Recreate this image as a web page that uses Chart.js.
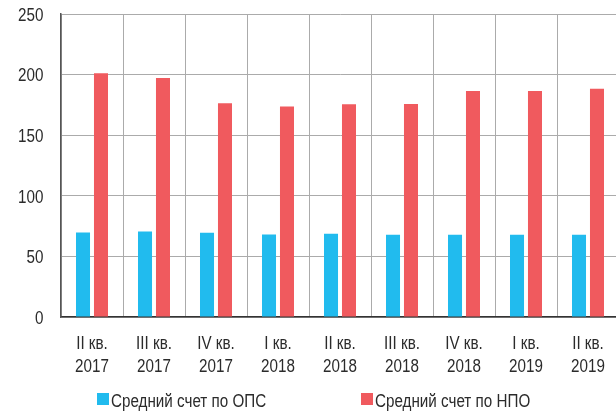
<!DOCTYPE html>
<html>
<head>
<meta charset="utf-8">
<script src="https://cdn.jsdelivr.net/npm/chart.js@4/dist/chart.umd.min.js"></script>
<style>
html,body{margin:0;padding:0;overflow:hidden;background:#fff;}
#wrap{width:620px;height:412px;}
</style>
</head>
<body>
<div id="wrap"><canvas id="c" width="620" height="412"></canvas></div>
<script>
const categories = [["II кв.","2017"],["III кв.","2017"],["IV кв.","2017"],["I кв.","2018"],["II кв.","2018"],["III кв.","2018"],["IV кв.","2018"],["I кв.","2019"],["II кв.","2019"]];
const opsValues = [69.7, 70.5, 69.5, 68.1, 68.6, 67.8, 67.8, 67.8, 67.8];
const npoValues = [201.1, 197.2, 176.4, 173.6, 175.6, 175.8, 186.5, 186.5, 188.4];
const seriesNames = ["Средний счет по ОПС", "Средний счет по НПО"];
const yTicks = [0, 50, 100, 150, 200, 250];

const FONT = '18px "Liberation Sans", Arial, sans-serif';
const NARROW = 0.845;
const TEXT = '#2b2b2b';

function narrowText(ctx, text, x, y, align) {
  ctx.save();
  ctx.translate(x, y);
  ctx.scale(NARROW, 1);
  ctx.textAlign = align;
  ctx.textBaseline = 'alphabetic';
  ctx.fillText(text, 0, 0);
  ctx.restore();
}

const textPlugin = {
  id: 'narrowTexts',
  afterDraw(chart) {
    const ctx = chart.ctx;
    ctx.save();
    ctx.font = FONT;
    ctx.fillStyle = TEXT;
    const ys = chart.scales.y;
    ys.ticks.forEach(t => {
      narrowText(ctx, String(t.value), 43.5, ys.getPixelForValue(t.value) + 6.7, 'right');
    });
    const xs = chart.scales.x;
    chart.data.labels.forEach((lab, i) => {
      const px = xs.getPixelForTick(i);
      narrowText(ctx, lab[0], px, 349.3, 'center');
      narrowText(ctx, lab[1], px, 372.3, 'center');
    });
    const lx = [97, 361];
    chart.data.datasets.forEach((ds, i) => {
      ctx.fillStyle = ds.backgroundColor;
      ctx.fillRect(lx[i], 393, 12, 12);
      ctx.fillStyle = TEXT;
      narrowText(ctx, ds.label, lx[i] + 14, 406.7, 'left');
    });
    ctx.restore();
  }
};

new Chart(document.getElementById('c'), {
  type: 'bar',
  data: {
    labels: categories,
    datasets: [
      {label: seriesNames[0], data: opsValues, backgroundColor: '#21bbee', categoryPercentage: 0.58, barPercentage: 0.78},
      {label: seriesNames[1], data: npoValues, backgroundColor: '#f05a5e', categoryPercentage: 0.58, barPercentage: 0.78}
    ]
  },
  options: {
    responsive: false,
    animation: false,
    devicePixelRatio: 1,
    layout: {padding: {top: 14, right: 1, bottom: 0, left: 0}},
    plugins: {legend: {display: false}, tooltip: {enabled: false}},
    scales: {
      x: {
        grid: {color: '#ababab', lineWidth: 1, drawTicks: false, offset: true},
        border: {color: '#333', width: 1.5},
        ticks: {display: false, autoSkip: false},
        afterFit(scale) { scale.height = 95; }
      },
      y: {
        min: 0, max: 250,
        afterBuildTicks(scale) { scale.ticks = yTicks.map(v => ({value: v})); },
        grid: {color: '#ababab', lineWidth: 1, drawTicks: false},
        border: {color: '#555', width: 1.5},
        ticks: {display: false},
        afterFit(scale) { scale.width = 61; }
      }
    }
  },
  plugins: [textPlugin]
});
</script>
</body>
</html>
